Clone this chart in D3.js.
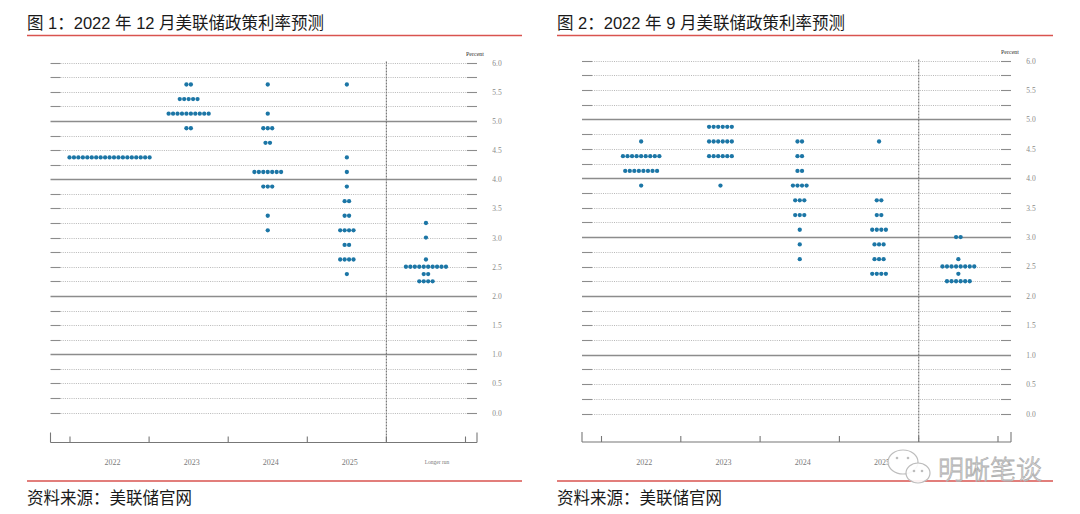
<!DOCTYPE html>
<html><head><meta charset="utf-8">
<script src="https://cdn.jsdelivr.net/npm/d3@7"></script>
<style>
html,body{margin:0;padding:0;background:#fff;}
svg{display:block;}
.gray{opacity:0.999;}
</style></head>
<body>
<svg id="chart" width="1080" height="514"></svg>
<script>
// ---------- data ----------
const categories = ["2022", "2023", "2024", "2025", "Longer run"];
const yTickValues = [0, 0.5, 1, 1.5, 2, 2.5, 3, 3.5, 4, 4.5, 5, 5.5, 6];
const gridValues = d3.range(0, 6.001, 0.25);
const titles = ["图 1：2022 年 12 月美联储政策利率预测", "图 2：2022 年 9 月美联储政策利率预测"];
const sourceText = "资料来源：美联储官网";
const unitLabel = "Percent";
const watermarkText = "明晰笔谈";

// [category, rate, number of participants]
const dotsDec2022 = [
  ["2022", 4.375, 19],
  ["2023", 5.625, 2], ["2023", 5.375, 5], ["2023", 5.125, 10], ["2023", 4.875, 2],
  ["2024", 5.625, 1], ["2024", 5.125, 1], ["2024", 4.875, 3], ["2024", 4.625, 2],
  ["2024", 4.125, 7], ["2024", 3.875, 3], ["2024", 3.375, 1], ["2024", 3.125, 1],
  ["2025", 5.625, 1], ["2025", 4.375, 1], ["2025", 4.125, 1], ["2025", 3.875, 1],
  ["2025", 3.625, 2], ["2025", 3.375, 2], ["2025", 3.125, 4], ["2025", 2.875, 2],
  ["2025", 2.625, 4], ["2025", 2.375, 1],
  ["Longer run", 3.25, 1], ["Longer run", 3.0, 1], ["Longer run", 2.625, 1],
  ["Longer run", 2.5, 10], ["Longer run", 2.375, 2], ["Longer run", 2.25, 4]
];
const dotsSep2022 = [
  ["2022", 4.625, 1], ["2022", 4.375, 9], ["2022", 4.125, 8], ["2022", 3.875, 1],
  ["2023", 4.875, 6], ["2023", 4.625, 6], ["2023", 4.375, 6], ["2023", 3.875, 1],
  ["2024", 4.625, 2], ["2024", 4.375, 2], ["2024", 4.125, 2], ["2024", 3.875, 4],
  ["2024", 3.625, 3], ["2024", 3.375, 3], ["2024", 3.125, 1], ["2024", 2.875, 1],
  ["2024", 2.625, 1],
  ["2025", 4.625, 1], ["2025", 3.625, 2], ["2025", 3.375, 2], ["2025", 3.125, 4],
  ["2025", 2.875, 3], ["2025", 2.625, 3], ["2025", 2.375, 4],
  ["Longer run", 3.0, 2], ["Longer run", 2.625, 1], ["Longer run", 2.5, 8],
  ["Longer run", 2.375, 1], ["Longer run", 2.25, 6]
];

// ---------- drawing ----------
const svg = d3.select("#chart");
const DOT = "#1c76a6";
const RED = "#d9534f";
const CJK = "'Liberation Sans','Noto Sans CJK SC',sans-serif";
const SERIF = "'Liberation Serif','DejaVu Serif',serif";

function panel(cfg) {
  const g = svg.append("g");
  const x = d3.scaleBand().domain(categories).range(cfg.band).paddingInner(0).paddingOuter(0);
  const y = d3.scaleLinear().domain([0, 6]).range(cfg.yRange);
  const [gx0, gx1] = cfg.grid;

  // title and rules
  g.append("text").attr("x", cfg.left).attr("y", 29).text(cfg.title)
    .attr("font-family", CJK).attr("font-size", 16.5).attr("fill", "#1a1a1a");
  g.append("line").attr("x1", cfg.left).attr("x2", cfg.right).attr("y1", 35.5).attr("y2", 35.5)
    .attr("stroke", RED).attr("stroke-width", 1.3);
  g.append("line").attr("x1", cfg.left).attr("x2", cfg.right).attr("y1", 481).attr("y2", 481)
    .attr("stroke", RED).attr("stroke-width", 1.3);
  g.append("text").attr("x", cfg.left).attr("y", 504).text(sourceText)
    .attr("font-family", CJK).attr("font-size", 16.5).attr("fill", "#1a1a1a");

  // horizontal grid
  const solid = v => cfg.solidAt.includes(v);
  gridValues.forEach(v => {
    const yy = Math.round(y(v)) + 0.5;
    if (solid(v)) {
      g.append("line").attr("x1", gx0).attr("x2", gx1).attr("y1", yy).attr("y2", yy)
        .attr("stroke", "#8c8c8c").attr("stroke-width", 1.4);
    } else {
      g.append("line").attr("x1", gx0 + 10).attr("x2", gx1 - 10).attr("y1", yy).attr("y2", yy)
        .attr("stroke", "#b0b0b0").attr("stroke-width", 0.9).attr("stroke-dasharray", "1,1.2");
      [[gx0, gx0 + 10], [gx1 - 10, gx1]].forEach(([a, b]) =>
        g.append("line").attr("x1", a).attr("x2", b).attr("y1", yy).attr("y2", yy)
          .attr("stroke", "#8c8c8c").attr("stroke-width", 1.1));
    }
  });

  // y axis labels (right side)
  const yAxis = d3.axisRight(y).tickValues(yTickValues).tickFormat(d3.format(".1f")).tickSize(0);
  const ya = g.append("g").attr("class", "gray").attr("transform", `translate(${cfg.yLabelX},0)`).call(yAxis);
  ya.select(".domain").remove();
  ya.selectAll("text").attr("font-family", SERIF).attr("font-size", 7.5).attr("fill", "#8a8a8a")
    .attr("x", 0).attr("text-anchor", "middle");
  g.append("text").attr("class", "gray").attr("x", cfg.percentX).attr("y", cfg.percentY).text(unitLabel)
    .attr("font-family", SERIF).attr("font-size", 6).attr("fill", "#333").attr("text-anchor", "middle");

  // vertical dashed separator before "Longer run"
  const sepX = x("Longer run");
  g.append("line").attr("x1", sepX).attr("x2", sepX).attr("y1", y(6) - 1).attr("y2", cfg.axisY)
    .attr("stroke", "#7a7a7a").attr("stroke-width", 1.2).attr("stroke-dasharray", "2,1");

  // bottom axis
  g.append("line").attr("x1", gx0).attr("x2", gx1).attr("y1", cfg.axisY).attr("y2", cfg.axisY)
    .attr("stroke", "#777").attr("stroke-width", 1.1);
  [gx0, gx1].forEach(px => g.append("line").attr("x1", px).attr("x2", px)
    .attr("y1", cfg.axisY - 10).attr("y2", cfg.axisY).attr("stroke", "#777").attr("stroke-width", 1.1));
  const bounds = categories.map(c => x(c)).concat([x(categories[categories.length - 1]) + x.bandwidth()]);
  bounds.forEach(px => g.append("line").attr("x1", px).attr("x2", px)
    .attr("y1", cfg.axisY - 6).attr("y2", cfg.axisY).attr("stroke", "#777").attr("stroke-width", 1.1));

  const shown = categories.filter(c => !cfg.hiddenLabels.includes(c));
  const xAxis = d3.axisBottom(x).tickValues(shown).tickSize(0);
  const xa = g.append("g").attr("class", "gray").attr("transform", `translate(3,${cfg.axisY + 20})`).call(xAxis);
  xa.select(".domain").remove();
  xa.selectAll("text").attr("y", 0).attr("dy", "0.32em")
    .attr("font-family", SERIF).attr("font-size", d => d === "Longer run" ? 5.5 : 8)
    .attr("fill", "#7a7a7a")
    .attr("dx", d => d === "Longer run" ? 8 : 0);

  // dots
  const sp = cfg.spacing;
  const pts = [];
  cfg.dots.forEach(([cat, rate, n]) => {
    const cx = x(cat) + x.bandwidth() / 2;
    for (let i = 0; i < n; i++) pts.push({ cx: cx + (i - (n - 1) / 2) * sp, cy: y(rate) });
  });
  g.append("g").selectAll("circle").data(pts).join("circle")
    .attr("cx", d => d.cx).attr("cy", d => d.cy).attr("r", 2.15).attr("fill", DOT);
  return g;
}

panel({
  title: titles[0], left: 27, right: 522,
  grid: [50.5, 477], band: [70, 465.5], yRange: [412.6, 62.6], axisY: 442.5,
  yLabelX: 497, percentX: 475, percentY: 56, spacing: 4.45,
  solidAt: [1, 2, 4, 5], dots: dotsDec2022, hiddenLabels: []
});
// in the reference the right panel's "Longer run" label is covered by the watermark
panel({
  title: titles[1], left: 557, right: 1053,
  grid: [582, 1011], band: [601.5, 998], yRange: [413.6, 60.6], axisY: 442,
  yLabelX: 1031, percentX: 1010, percentY: 54, spacing: 4.55,
  solidAt: [1, 2, 3, 4, 5], dots: dotsSep2022, hiddenLabels: ["Longer run"]
});

// watermark
const wm = svg.append("g");
wm.append("ellipse").attr("cx", 903).attr("cy", 462).attr("rx", 15).attr("ry", 12)
  .attr("fill", "#fff").attr("fill-opacity", 0.85).attr("stroke", "#bdbdbd").attr("stroke-width", 1.2);
wm.append("ellipse").attr("cx", 918).attr("cy", 473).attr("rx", 12).attr("ry", 10)
  .attr("fill", "#fff").attr("fill-opacity", 0.9).attr("stroke", "#bdbdbd").attr("stroke-width", 1.2);
[[897, 458], [908, 458], [914, 471], [922, 471]].forEach(([cx, cy]) =>
  wm.append("circle").attr("cx", cx).attr("cy", cy).attr("r", 1.3).attr("fill", "#bdbdbd"));
wm.append("text").attr("x", 938).attr("y", 479).text(watermarkText)
  .attr("font-family", "'Noto Sans CJK SC',sans-serif").attr("font-size", 26).attr("font-weight", 300)
  .attr("fill", "#fff").attr("fill-opacity", 0.6).attr("stroke", "#adadad").attr("stroke-width", 0.8);
</script>
</body></html>
